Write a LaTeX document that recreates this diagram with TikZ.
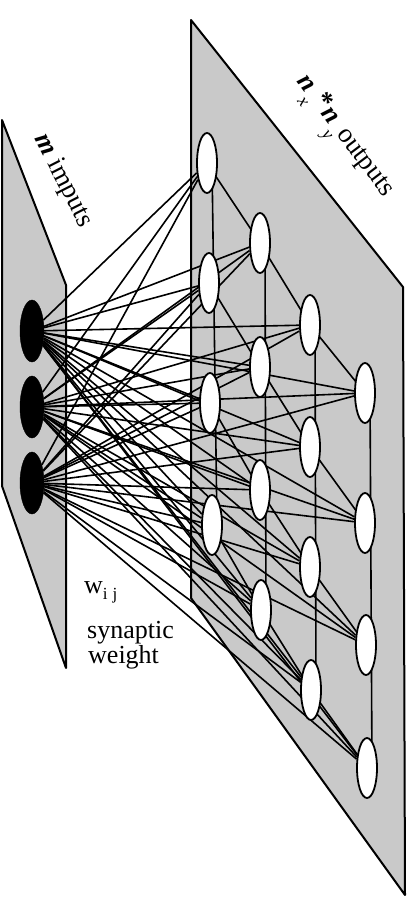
\documentclass[tikz,border=0pt]{standalone}
\usepackage{fontspec}
\setmainfont{Liberation Serif}
\usetikzlibrary{shapes.geometric}
\pgfdeclarelayer{planes}
\pgfdeclarelayer{edges}
\pgfsetlayers{planes,edges,main}
\begin{document}
\begin{tikzpicture}[x=1pt,y=-1pt,
  plane/.style={fill=black!21, draw=black, line width=2pt, line join=round},
  inp/.style={ellipse, fill=black, draw=black, minimum width=24pt, minimum height=62pt, inner sep=0pt},
  outn/.style={ellipse, fill=white, draw=black, line width=1.8pt, minimum width=20pt, minimum height=60pt, inner sep=0pt},
  wire/.style={line width=1.6pt},
  lbl/.style={font=\fontsize{26}{27}\selectfont, inner sep=0pt},
  biglbl/.style={font=\fontsize{27}{28}\selectfont, inner sep=0pt}]
\useasboundingbox (0,0) rectangle (409,899);

% input neurons
\node[inp] (in1) at (32,331) {};
\node[inp] (in2) at (32,407) {};
\node[inp] (in3) at (32,483) {};

% output neurons: o<column><row>
\node[outn] (o11) at (207,163) {};
\node[outn] (o12) at (209,283) {};
\node[outn] (o13) at (210,403) {};
\node[outn] (o14) at (212,525) {};
\node[outn] (o21) at (260,243) {};
\node[outn] (o22) at (260,367) {};
\node[outn] (o23) at (260,490) {};
\node[outn] (o24) at (261,610) {};
\node[outn] (o31) at (310,325) {};
\node[outn] (o32) at (310,447) {};
\node[outn] (o33) at (310,567) {};
\node[outn] (o34) at (311,690) {};
\node[outn] (o41) at (365,393) {};
\node[outn] (o42) at (365,523) {};
\node[outn] (o43) at (366,645) {};
\node[outn] (o44) at (367,768) {};

% planes
\begin{pgfonlayer}{planes}
  \draw[plane] (2,120) -- (66,285) -- (66,668) -- (2,486) -- cycle;
  \draw[plane] (191,20) -- (403,287) -- (405,895) -- (191,598) -- cycle;
\end{pgfonlayer}

% connections
\begin{pgfonlayer}{edges}
  \foreach \i in {1,2,3}
    \foreach \c in {1,2,3,4}
      \foreach \r in {1,2,3,4}
        \draw[wire] (in\i) -- (o\c\r);
  \foreach \c in {1,2,3,4}
    \draw[wire] ([xshift=5pt]o\c1.center) -- ([xshift=5pt]o\c4.center);
  \foreach \r in {1,2,3,4}
    \draw[wire] (o1\r.center) -- (o2\r.center) -- (o3\r.center) -- (o4\r.center);
\end{pgfonlayer}

% labels
\node[biglbl, rotate=-63] (lin) at (63,181) {\textbf{\textit{m}} imputs};
\node[biglbl, rotate=-53, anchor=base west] (lout) at (296,81)
  {\textbf{\textit{n}}\hspace{2pt}\raisebox{-12pt}{\fontsize{18}{18}\selectfont\textit{x}}\hspace{1pt}\raisebox{2pt}{\textbf{*}}\hspace{1pt}\textbf{\textit{n}}\hspace{2pt}\raisebox{-12pt}{\fontsize{18}{18}\selectfont\textit{y}}\hspace{1pt}outputs};
\node[lbl, anchor=base west] (wij) at (84,593)
  {w\raisebox{-6pt}{\fontsize{17}{17}\selectfont i\hspace{5pt}j}};
\node[lbl, anchor=base west] (syn) at (87,638) {synaptic};
\node[lbl, anchor=base west] (wgt) at (88,663) {weight};
\end{tikzpicture}
\end{document}
